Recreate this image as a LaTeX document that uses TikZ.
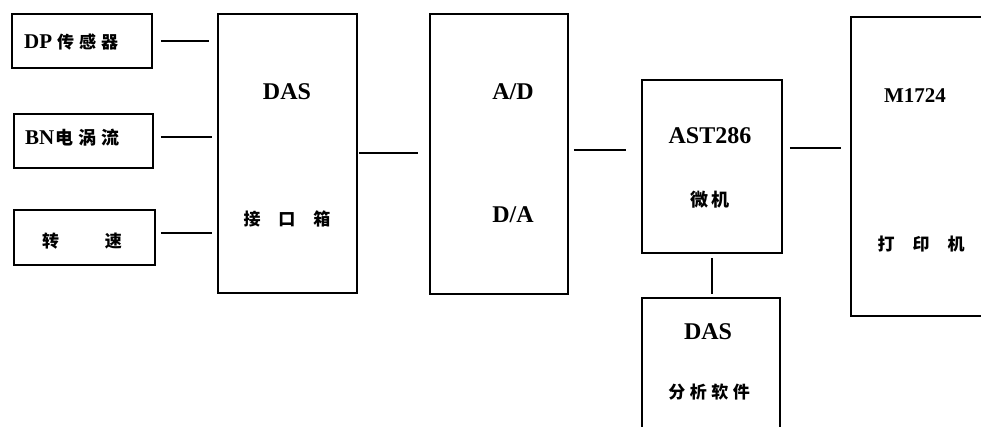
\documentclass[tikz,border=0pt]{standalone}
\usepackage{fontspec}
\setmainfont{Liberation Serif}
\newfontfamily\cjk{Noto Sans CJK SC}
\newcommand\hanfont{\fontsize{17}{20}\selectfont\cjk\bfseries}
\newcommand\hanbig{\fontsize{18}{21}\selectfont\cjk\bfseries}
\begin{document}
\begin{tikzpicture}[x=1pt,y=-1pt,
  blk/.style={draw,line width=1.8pt,rectangle,inner sep=0pt},
  link/.style={line width=2pt},
  lat/.style={font=\fontsize{24}{28}\selectfont\bfseries},
  latsm/.style={font=\fontsize{21}{24}\selectfont\bfseries},
  han/.style={font=\hanfont}
]
\clip (0,0) rectangle (981,426);
\fill[white] (0,0) rectangle (981,426);

% sensor boxes
\node[blk,minimum width=140pt,minimum height=54pt] (dp) at (82,41) {};
\node[blk,minimum width=139pt,minimum height=54pt] (bn) at (83.5,141) {};
\node[blk,minimum width=141pt,minimum height=55pt] (rs) at (84.5,237.5) {};

% main chain
\node[blk,minimum width=139pt,minimum height=279pt] (das) at (287.5,153.5) {};
\node[blk,minimum width=138pt,minimum height=280pt] (ad) at (499,154) {};
\node[blk,minimum width=140pt,minimum height=173pt] (ast) at (712,166.5) {};
\node[blk,minimum width=150pt,minimum height=299pt] (prn) at (926,166.5) {};
\node[blk,minimum width=138pt,minimum height=150pt] (sw) at (711,373) {};

% labels
\node[latsm,anchor=west,inner sep=0pt] (tdp) at (24,42) {DP\hspace{5pt}{\hanfont 传\hspace{5pt}感\hspace{5pt}器}};
\node[latsm,anchor=west,inner sep=0pt] (tbn) at (25,138) {BN\hspace{1pt}{\hanbig 电\hspace{5pt}涡\hspace{5pt}流}};
\node[han] (trs) at (82,241) {转\hspace{46pt}速};

\node[lat] (tdas) at (287,92) {DAS};
\node[han] (tjk) at (287,219) {接\hspace{18pt}口\hspace{18pt}箱};

\node[lat] (tad) at (513,92) {A/D};
\node[lat] (tda) at (513,215) {D/A};

\node[lat] (tast) at (710,136) {AST286};
\node[font=\hanbig] (twj) at (710,200) {微\hspace{3pt}机};

\node[latsm] (tm) at (915,96) {M1724};
\node[han] (tdy) at (921,244) {打\hspace{18pt}印\hspace{18pt}机};

\node[lat] (tdas2) at (708,332) {DAS};
\node[han] (tfx) at (709,392) {分\hspace{4.5pt}析\hspace{4.5pt}软\hspace{4.5pt}件};

% connectors
\draw[link,shorten <=8pt,shorten >=8pt] (dp.east) -- (dp.east -| das.west);
\draw[link,shorten <=7pt,shorten >=5pt] ([yshift=4pt]bn.east) -- ([yshift=4pt]bn.east -| das.west);
\draw[link,shorten <=5pt,shorten >=5pt] ([yshift=4.5pt]rs.east) -- ([yshift=4.5pt]rs.east -| das.west);
\draw[link,shorten <=1pt,shorten >=11pt] ([yshift=0.5pt]das.east) -- ([yshift=0.5pt]das.east -| ad.west);
\draw[link,shorten <=5pt,shorten >=15pt] ([yshift=4pt]ad.east) -- ([yshift=4pt]ad.east -| ast.west);
\draw[link,shorten <=7pt,shorten >=9pt] ([yshift=18.5pt]ast.east) -- ([yshift=18.5pt]ast.east -| prn.west);
\draw[link,shorten <=4pt,shorten >=3pt] (ast.south) -- (ast.south |- sw.north);
\end{tikzpicture}
\end{document}
